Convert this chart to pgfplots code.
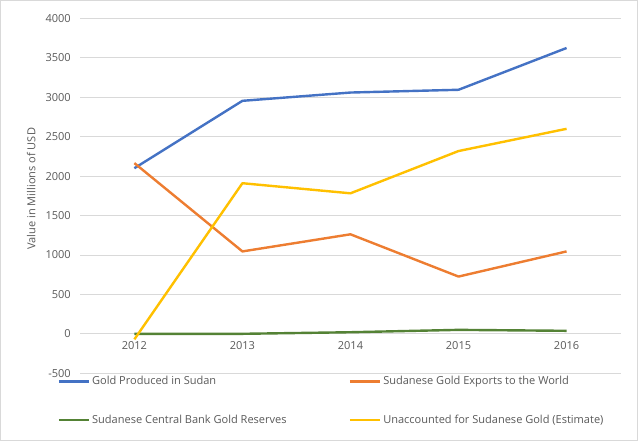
\documentclass[border=0pt]{standalone}
\usepackage{fontspec}
\setmainfont{Open Sans}
\usepackage{pgfplots}
\pgfplotsset{compat=1.18}
\definecolor{cblue}{HTML}{4472C4}
\definecolor{corange}{HTML}{ED7D31}
\definecolor{cgreen}{HTML}{548235}
\definecolor{cyellow}{HTML}{FFC000}
\definecolor{ctext}{HTML}{595959}
\definecolor{cgrid}{HTML}{D9D9D9}
\begin{document}
\begin{tikzpicture}
\begin{axis}[
  scale only axis,
  width=539pt, height=354pt,
  xmin=-0.5, xmax=4.5,
  ymin=-500, ymax=4000,
  ytick={-500,0,500,...,4000},
  xtick={0,1,2,3,4},
  xticklabels={2012,2013,2014,2015,2016},
  axis x line*=middle,
  axis y line*=left,
  x axis line style={draw=cgrid, line width=0.8pt},
  y axis line style={draw=none},
  major tick length=0pt,
  ymajorgrids,
  grid style={cgrid, line width=0.8pt},
  ticklabel style={font=\fontsize{11}{13}\selectfont, text=ctext},
  /pgf/number format/assume math mode=true,
  /pgf/number format/1000 sep={},
  yticklabel style={xshift=-6pt},
  xticklabel style={yshift=-4pt},
  ylabel={Value in Millions of USD},
  ylabel style={font=\fontsize{11}{13}\selectfont, text=ctext, at={(rel axis cs:-0.091,0.52)}, anchor=center},
  clip=false,
  legend columns=2,
  legend cell align=left,
  legend image code/.code={\draw[#1] (0pt,0pt) -- (30pt,0pt);},
  legend style={at={(rel axis cs:-0.048,0.003)}, anchor=north west, draw=none, fill=none,
    font=\fontsize{11}{13}\selectfont, text=ctext, row sep=25pt,
    /tikz/every even column/.append style={column sep=60pt}},
  every axis plot/.append style={line width=2.4pt, line join=round},
]
\addplot[cblue, no markers] coordinates {(0,2100) (1,2955) (2,3060) (3,3095) (4,3625)};
\addlegendentry{Gold Produced in Sudan}
\addplot[corange, no markers] coordinates {(0,2165) (1,1045) (2,1262) (3,726) (4,1045)};
\addlegendentry{Sudanese Gold Exports to the World}
\addplot[cgreen, no markers] coordinates {(0,0) (1,0) (2,20) (3,50) (4,38)};
\addlegendentry{Sudanese Central Bank Gold Reserves}
\addplot[cyellow, no markers] coordinates {(0,-70) (1,1910) (2,1782) (3,2318) (4,2600)};
\addlegendentry{Unaccounted for Sudanese Gold (Estimate)}
\draw[cgrid, line width=0.8pt] (rel axis cs:-0.148,-0.189) rectangle (rel axis cs:1.0315,1.0508);
\end{axis}
\end{tikzpicture}
\end{document}
